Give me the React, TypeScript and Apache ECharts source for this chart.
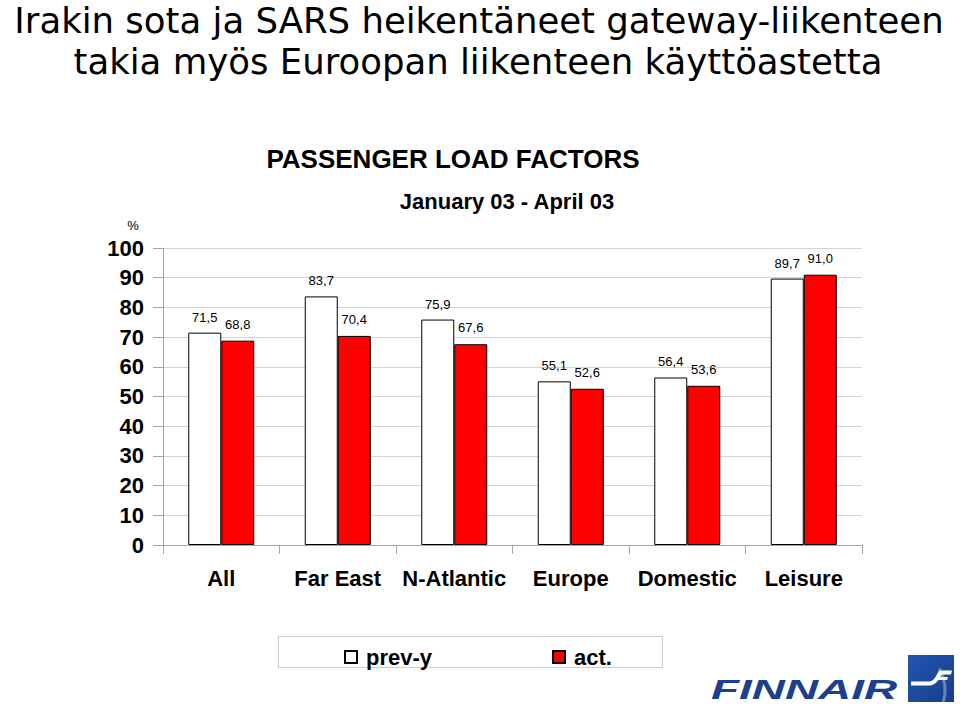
import React, { useEffect, useRef } from "react";
import * as echarts from "echarts";

const categories = ["All", "Far East", "N-Atlantic", "Europe", "Domestic", "Leisure"];
const prevY = [71.5, 83.7, 75.9, 55.1, 56.4, 89.7];
const act = [68.8, 70.4, 67.6, 52.6, 53.6, 91.0];
const yTicks = { min: 0, max: 100, interval: 10 };
const titleLines = [
  "Irakin sota ja SARS heikentäneet gateway-liikenteen",
  "takia myös Euroopan liikenteen käyttöastetta",
];
const chartTitle = "PASSENGER LOAD FACTORS";
const chartSubtitle = "January 03 - April 03";
const seriesNames = ["prev-y", "act."];

const F_PATH =
  "M3 26.5 L21 26.5 C26 26.5 28 21 31 15.5 L44 15.5 L43 19.5 L34 19.5 C31 24 28 30.5 21 30.5 L3 30.5 Z M30 22 L40 22 L39 25 L28.5 25 Z";
echarts.graphic.registerShape("finnairF", echarts.graphic.extendPath(F_PATH as any, {}) as any);

const fmt = (p: any) => Number(p.value).toFixed(1).replace(".", ",");
const SANS = "Liberation Sans, Arial, sans-serif";

export default function App() {
  const ref = useRef<HTMLDivElement>(null);
  useEffect(() => {
    document.body.style.margin = "0";
    const chart = echarts.init(ref.current!, null, { renderer: "svg" });
    chart.setOption({
      animation: false,
      backgroundColor: "#ffffff",
      grid: { left: 163, right: 98, top: 248, bottom: 159, containLabel: false },
      legend: {
        left: 339,
        top: 641,
        itemWidth: 12,
        itemHeight: 12,
        itemGap: 120,
        icon: "rect",
        data: seriesNames,
        textStyle: { fontFamily: SANS, fontSize: 22, fontWeight: "bold", color: "#000", padding: [0, 0, 0, 4] },
      },
      xAxis: {
        type: "category",
        data: categories,
        axisLine: { show: true, lineStyle: { color: "#a6a6a6" } },
        axisTick: { show: true, interval: 0, length: 9, lineStyle: { color: "#a6a6a6" } },
        axisLabel: { interval: 0, margin: 22, fontFamily: SANS, fontSize: 22, fontWeight: "bold", color: "#000" },
      },
      yAxis: {
        type: "value",
        min: yTicks.min,
        max: yTicks.max,
        interval: yTicks.interval,
        axisLine: { show: true, lineStyle: { color: "#a6a6a6" } },
        axisTick: { show: true, length: 10, lineStyle: { color: "#a6a6a6" } },
        splitLine: { show: true, lineStyle: { color: "#d4d4d4" } },
        axisLabel: { margin: 19, fontFamily: SANS, fontSize: 22, fontWeight: "bold", color: "#000" },
      },
      series: [
        {
          name: seriesNames[0],
          type: "bar",
          data: prevY,
          barWidth: 33,
          barGap: "0%",
          itemStyle: { color: "#ffffff", borderColor: "#000", borderWidth: 1 },
          label: { show: true, position: "top", distance: 9, formatter: fmt, fontFamily: SANS, fontSize: 13, color: "#000" },
        },
        {
          name: seriesNames[1],
          type: "bar",
          data: act,
          barWidth: 33,
          barGap: "0%",
          itemStyle: { color: "#ff0000", borderColor: "#000", borderWidth: 1 },
          label: { show: true, position: "top", distance: 10, formatter: fmt, fontFamily: SANS, fontSize: 13, color: "#000" },
        },
      ],
      graphic: [
        {
          type: "rect",
          z: -1,
          shape: { x: 278.5, y: 636.5, width: 384, height: 31 },
          style: { fill: "#fff", stroke: "#cccccc", lineWidth: 1 },
        },
        {
          type: "text",
          style: {
            x: 479, y: 20, text: titleLines[0], textAlign: "center", textVerticalAlign: "middle",
            fontFamily: "DejaVu Sans", fontSize: 35.5, fill: "#000",
          },
        },
        {
          type: "text",
          style: {
            x: 478, y: 61, text: titleLines[1], textAlign: "center", textVerticalAlign: "middle",
            fontFamily: "DejaVu Sans", fontSize: 35.5, fill: "#000",
          },
        },
        {
          type: "text",
          style: {
            x: 453, y: 159, text: chartTitle, textAlign: "center", textVerticalAlign: "middle",
            fontFamily: SANS, fontSize: 26, fontWeight: "bold", fill: "#000",
          },
        },
        {
          type: "text",
          style: {
            x: 507, y: 201, text: chartSubtitle, textAlign: "center", textVerticalAlign: "middle",
            fontFamily: SANS, fontSize: 22, fontWeight: "bold", fill: "#000",
          },
        },
        {
          type: "text",
          style: {
            x: 133, y: 225, text: "%", textAlign: "center", textVerticalAlign: "middle",
            fontFamily: SANS, fontSize: 13, fill: "#000",
          },
        },
        {
          type: "text",
          x: 711,
          y: 690,
          scaleX: 1.7,
          style: {
            x: 0, y: 0, text: "FINNAIR", textAlign: "left", textVerticalAlign: "middle",
            fontFamily: SANS, fontSize: 27, fontWeight: "bold", fontStyle: "italic", fill: "#1d3f8f",
          },
        },
        {
          type: "rect",
          shape: { x: 908, y: 655, width: 46, height: 47 },
          style: {
            fill: new echarts.graphic.LinearGradient(0, 0, 1, 1, [
              { offset: 0, color: "#2456b0" },
              { offset: 1, color: "#163c8c" },
            ]),
          },
        },
        {
          type: "arc",
          shape: { cx: 900, cy: 690, r: 45, startAngle: -0.5, endAngle: 0.28 },
          style: { stroke: "rgba(255,255,255,0.35)", lineWidth: 3, fill: "none" },
        },
        {
          type: "finnairF",
          x: 908,
          y: 655,
          style: { fill: "#ffffff" },
        },
      ],
    });
    return () => chart.dispose();
  }, []);
  return <div ref={ref} style={{ width: 960, height: 704 }} />;
}
